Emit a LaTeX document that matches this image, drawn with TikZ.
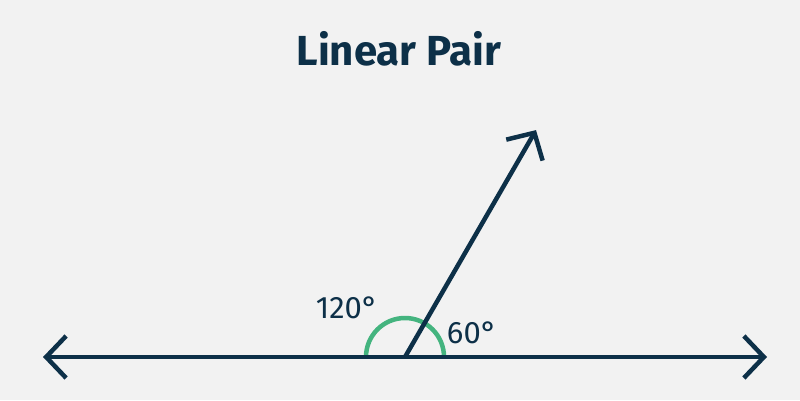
\documentclass[tikz,border=0pt]{standalone}
\usepackage{fontspec}
\setmainfont{Fira Sans}
\usetikzlibrary{arrows.meta,positioning,calc}
\definecolor{navy}{HTML}{0D3048}
\definecolor{mint}{HTML}{44B47F}
\definecolor{paper}{HTML}{F2F2F2}

\begin{document}
\begin{tikzpicture}[x=1pt,y=1pt,>={Straight Barb[length=20pt,width=42pt]},
	ray/.style={draw=navy,line width=4.5pt},
	angarc/.style={draw=mint,line width=4.5pt},
	lbl/.style={text=navy,font=\fontsize{31}{36}\selectfont,inner sep=0pt}]
	\fill[paper] (0,0) rectangle (800,400);
	\useasboundingbox (0,0) rectangle (800,400);

	\node[text=navy,font=\bfseries\fontsize{42}{48}\selectfont] (title) at (399,351) {Linear Pair};

	\coordinate (V) at (405,43);
	\coordinate (L) at (43,43);
	\coordinate (R) at (767,43);
	\coordinate (T) at ($(V)+(60:262)$);

	\draw[angarc] ([xshift=39pt]V) arc (0:180:39);
	\draw[ray,<->] (L) -- (R);
	\draw[ray,->] (V) -- (T);

	\node[lbl] (big)   at (347,92) {120°};
	\node[lbl] (small) at (472,67) {60°};
\end{tikzpicture}
\end{document}
